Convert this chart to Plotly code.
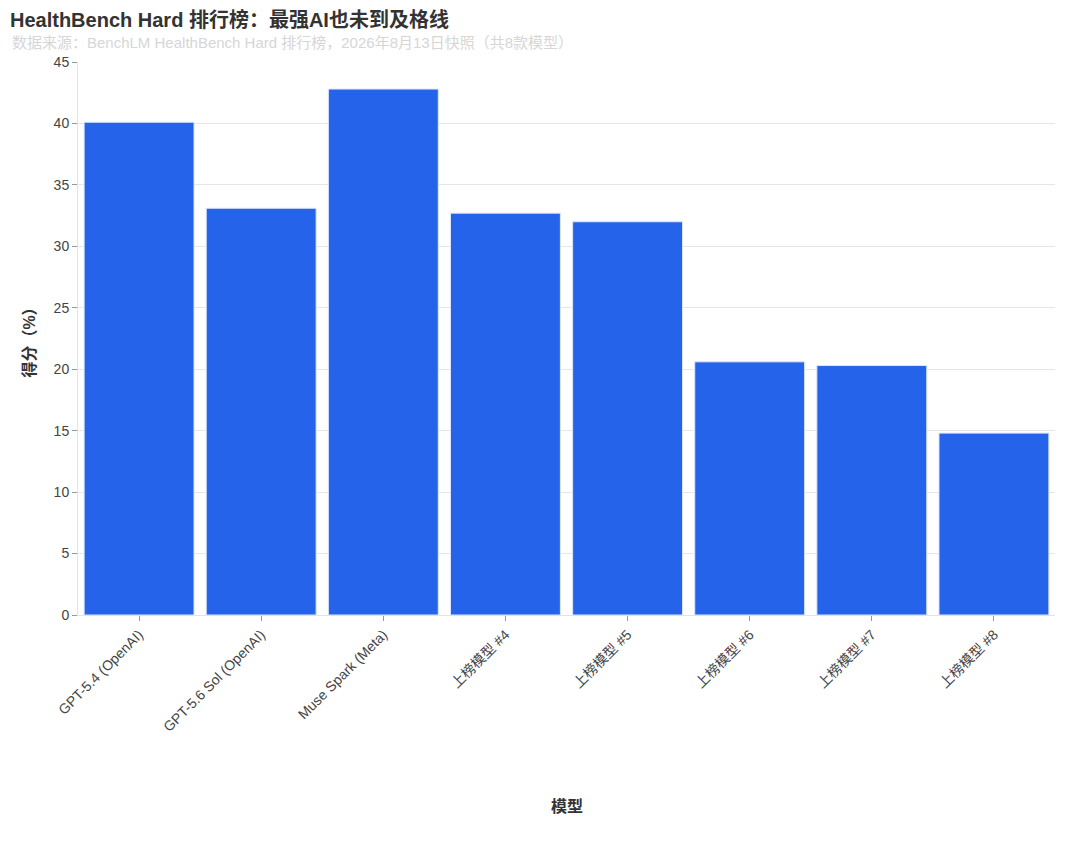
import plotly.graph_objects as go

models = [
    "GPT-5.4 (OpenAI)",
    "GPT-5.6 Sol (OpenAI)",
    "Muse Spark (Meta)",
    "上榜模型 #4",
    "上榜模型 #5",
    "上榜模型 #6",
    "上榜模型 #7",
    "上榜模型 #8",
]
scores = [40.1, 33.1, 42.8, 32.7, 32.0, 20.6, 20.3, 14.8]
y_ticks = [0, 5, 10, 15, 20, 25, 30, 35, 40, 45]

FONT = "Liberation Sans, Arial, Noto Sans CJK SC, sans-serif"

# page body adds an 8px margin, so the figure is 8px smaller than the window
W, H = 1072, 833
ML, MR, MT, MB = 70, 25, 54, 226
plot_w = W - ML - MR
plot_h = H - MT - MB

fig = go.Figure()
fig.add_trace(go.Bar(
    x=models,
    y=scores,
    marker=dict(color="#2563EB", line=dict(color="#dbe6fb", width=1)),
    hovertemplate="%{x}: %{y}%<extra></extra>",
))

fig.update_layout(
    width=W,
    height=H,
    paper_bgcolor="white",
    plot_bgcolor="white",
    font=dict(family=FONT, color="#444"),
    showlegend=False,
    bargap=0.1,
    margin=dict(l=ML, r=MR, t=MT, b=MB),
    title=dict(
        text="<b>HealthBench Hard 排行榜：最强AI也未到及格线</b>",
        x=2 / W, xanchor="left", xref="container",
        y=1 - 12 / H, yanchor="middle", yref="container",
        font=dict(size=20, color="#333"),
    ),
    annotations=[
        dict(
            text="数据来源：BenchLM HealthBench Hard 排行榜，2026年8月13日快照（共8款模型）",
            xref="paper", yref="paper", x=(2 - ML) / plot_w, y=1 + (MT - 34) / plot_h,
            xanchor="left", yanchor="middle", showarrow=False,
            font=dict(size=15, color="#d6d6d6"),
        ),
        dict(
            text="<b>模型</b>",
            xref="paper", yref="paper", x=0.5, y=-(798 - (H - MB)) / plot_h,
            xanchor="center", yanchor="middle", showarrow=False,
            font=dict(size=16, color="#333"),
        ),
    ],
)

fig.update_xaxes(
    tickangle=-45,
    tickfont=dict(size=14, color="#444"),
    ticks="outside", ticklen=5, tickcolor="#999",
    showline=True, linecolor="#e3e3e3", linewidth=1,
    showgrid=False,
)
fig.update_yaxes(
    range=[0, 45],
    tickvals=y_ticks,
    tickfont=dict(size=14, color="#444"),
    ticks="outside", ticklen=5, tickcolor="#999",
    showline=True, linecolor="#e3e3e3", linewidth=1,
    gridcolor="#e6e6e6", zeroline=False,
    title=dict(text="<b>得分（%）</b>", font=dict(size=16, color="#333"), standoff=14),
)

fig.write_html("out.html")
